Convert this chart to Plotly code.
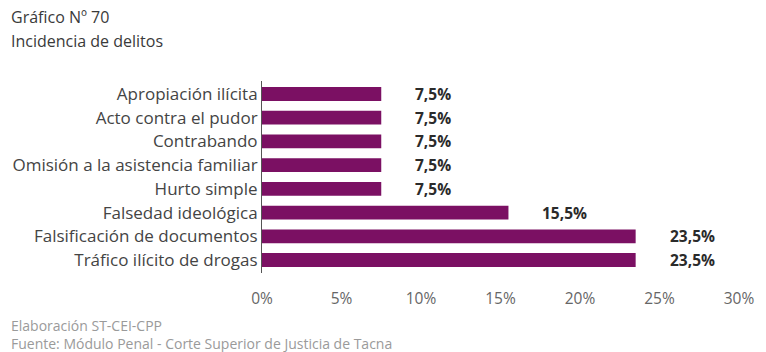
import plotly.graph_objects as go

# Delitos (top to bottom) and their share of cases, in percent
delitos = [
    "Apropiación ilícita",
    "Acto contra el pudor",
    "Contrabando",
    "Omisión a la asistencia familiar",
    "Hurto simple",
    "Falsedad ideológica",
    "Falsificación de documentos",
    "Tráfico ilícito de drogas",
]
porcentajes = [7.5, 7.5, 7.5, 7.5, 7.5, 15.5, 23.5, 23.5]
tick_vals = [0, 5, 10, 15, 20, 25, 30]
tick_text = ["0%", "5%", "10%", "15%", "20%", "25%", "30%"]

W, H = 766, 352
L, R, T, B = 262, 20, 81, 79
FONT = "Open Sans"
PURPLE = "#7B1063"

fig = go.Figure(
    go.Bar(
        x=porcentajes,
        y=delitos,
        orientation="h",
        marker=dict(color=PURPLE, line=dict(width=0)),
        width=0.58,
        hoverinfo="skip",
    )
)

# value labels placed to the right of each bar
for d, v in zip(delitos, porcentajes):
    fig.add_annotation(
        x=v, y=d, xref="x", yref="y",
        text="<b>" + f"{v:.1f}%".replace(".", ",") + "</b>",
        showarrow=False, xanchor="left", xshift=32,
        font=dict(family=FONT, size=15.5, color="#2b2b2b"),
    )

plot_w = W - L - R
plot_h = H - T - B


def px_x(px):
    return (px - L) / plot_w


def px_y(py):
    return (H - B - py) / plot_h


# title block
for txt, y in [("Gráfico Nº 70", 17), ("Incidencia de delitos", 41)]:
    fig.add_annotation(
        x=px_x(5), y=px_y(y), xref="paper", yref="paper",
        text=txt, showarrow=False, xanchor="left", yanchor="middle",
        font=dict(family=FONT, size=16, color="#3a3a3a"),
    )

# source notes
for txt, y in [("Elaboración ST-CEI-CPP", 325), ("Fuente: Módulo Penal - Corte Superior de Justicia de Tacna", 343)]:
    fig.add_annotation(
        x=px_x(5), y=px_y(y), xref="paper", yref="paper",
        text=txt, showarrow=False, xanchor="left", yanchor="middle",
        font=dict(family=FONT, size=14, color="#9a9a9a"),
    )

fig.update_layout(
    width=W, height=H,
    margin=dict(l=L, r=R, t=T, b=B, pad=0),
    paper_bgcolor="white", plot_bgcolor="white",
    showlegend=False,
    xaxis=dict(
        range=[0, 30], tickvals=tick_vals, ticktext=tick_text,
        showgrid=False, zeroline=False, showline=False, ticks="",
        ticklabelstandoff=14,
        tickfont=dict(family=FONT, size=15.5, color="#666666"),
        fixedrange=True,
    ),
    yaxis=dict(
        autorange="reversed", showgrid=False, zeroline=False,
        showline=True, linecolor="#555555", linewidth=1,
        ticks="", ticklabelstandoff=0,
        tickfont=dict(family=FONT, size=17, color="#444444"),
        fixedrange=True,
    ),
)

fig.write_html("out.html")
